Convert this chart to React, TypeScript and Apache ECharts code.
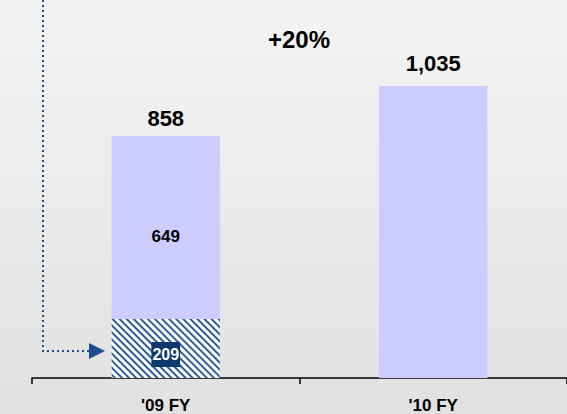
import React, { useEffect, useRef } from "react";
import * as echarts from "echarts";

const categories = ["'09 FY", "'10 FY"];
const baseValues: (number | string)[] = [209, "-"];
const mainValues = [649, 1035];
const totals = [858, 1035];
const totalLabels = ["858", "1,035"];
const growthLabel = "+20%";

const FONT = "'Liberation Sans', Arial, sans-serif";

export default function App() {
  const ref = useRef<HTMLDivElement>(null);
  useEffect(() => {
    if (!ref.current) return;
    const chart = echarts.init(ref.current, null, { renderer: "svg" });
    chart.setOption({
      animation: false,
      backgroundColor: {
        type: "linear",
        x: 0,
        y: 0,
        x2: 0,
        y2: 1,
        colorStops: [
          { offset: 0, color: "#f4f4f4" },
          { offset: 1, color: "#e1e1e1" },
        ],
      },
      grid: { left: 32, right: -3, top: 0, bottom: 35 },
      xAxis: {
        type: "category",
        data: categories,
        boundaryGap: true,
        axisLine: { lineStyle: { color: "#000", width: 1.5 } },
        axisTick: { show: true, length: 6, lineStyle: { color: "#000", width: 1.5 } },
        axisLabel: {
          color: "#000",
          fontFamily: FONT,
          fontWeight: "bold",
          fontSize: 17,
          margin: 19,
        },
      },
      yAxis: {
        type: "value",
        min: 0,
        max: 1340,
        show: false,
        splitLine: { show: false },
      },
      graphic: [
        {
          type: "text",
          left: 268,
          top: 27,
          style: {
            text: growthLabel,
            fill: "#000",
            font: `bold 24px ${FONT}`,
          },
        },
        {
          type: "polyline",
          shape: { points: [[43, 0], [43, 351], [89, 351]] },
          style: { stroke: "#1f4e8c", lineWidth: 2, lineDash: [2, 3], fill: null },
        },
        {
          type: "polygon",
          shape: { points: [[89, 343], [105, 351], [89, 359]] },
          style: { fill: "#1f4e8c" },
        },
      ],
      series: [
        {
          type: "bar",
          stack: "a",
          barWidth: "40.5%",
          data: baseValues,
          itemStyle: {
            color: "#ffffff",
            decal: {
              symbol: "rect",
              symbolSize: 1,
              color: "#2e5c99",
              dashArrayX: [1, 0],
              dashArrayY: [2, 3],
              rotation: Math.PI / 4,
            },
          },
          label: {
            show: true,
            position: "inside",
            offset: [0, 6],
            color: "#fff",
            fontFamily: FONT,
            fontWeight: "bold",
            fontSize: 16,
            backgroundColor: "#0d3a6c",
            padding: [5, 1, 4, 1],
          },
        },
        {
          type: "bar",
          stack: "a",
          data: mainValues.map((v, i) => ({
            value: v,
            label:
              i === 0
                ? {
                    show: true,
                    position: "inside",
                    offset: [0, 9],
                    color: "#000",
                    fontFamily: FONT,
                    fontWeight: "bold",
                    fontSize: 17,
                  }
                : { show: false },
          })),
          itemStyle: { color: "#ccccff" },
        },
        {
          type: "bar",
          stack: "a",
          data: totals.map((_, i) => ({
            value: 0,
            label: { distance: i === 0 ? 6 : 12 },
          })),
          itemStyle: { color: "transparent" },
          label: {
            show: true,
            position: "top",
            formatter: (p: any) => totalLabels[p.dataIndex],
            color: "#000",
            fontFamily: FONT,
            fontWeight: "bold",
            fontSize: 22,
          },
        },
      ],
    });
    return () => chart.dispose();
  }, []);
  return (
    <div
      ref={ref}
      style={{ position: "fixed", left: 0, top: 0, width: 567, height: 414 }}
    />
  );
}
